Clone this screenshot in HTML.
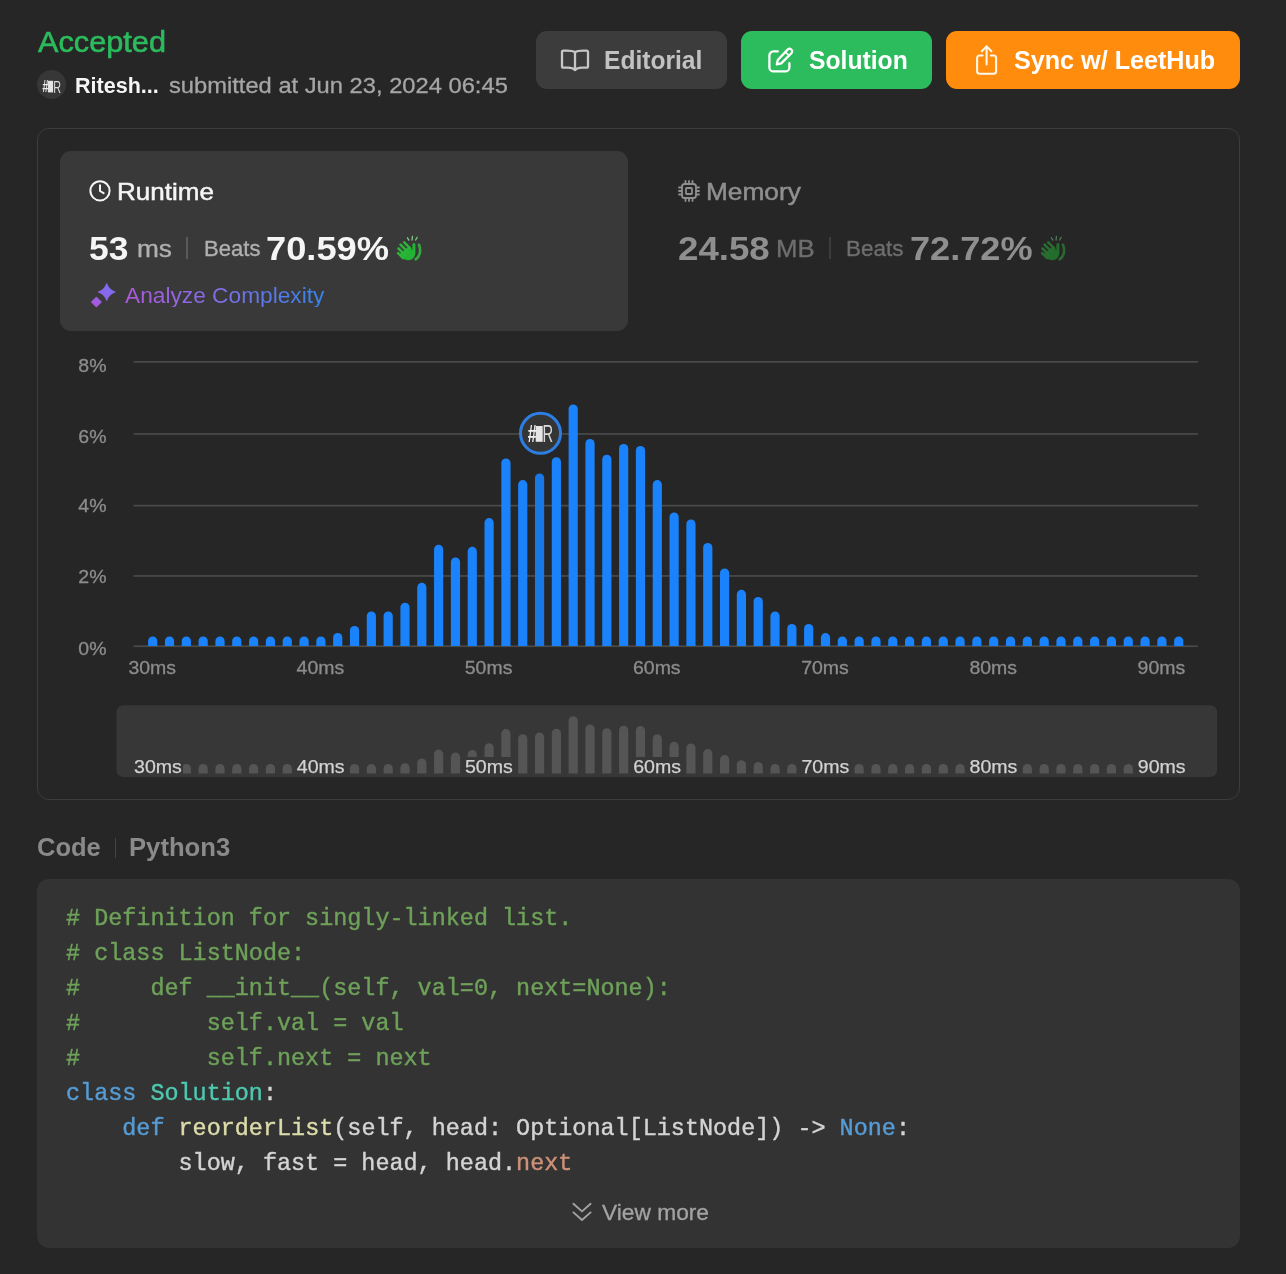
<!DOCTYPE html>
<html lang="en">
<head>
<meta charset="utf-8">
<title>Accepted - Submission Detail</title>
<style>
html,body{margin:0;padding:0;}
body{width:1286px;height:1274px;background:#262626;overflow:hidden;position:relative;font-family:"Liberation Sans",sans-serif;}
.abs{position:absolute;box-sizing:border-box;}
.t{position:absolute;white-space:pre;display:block;transform-origin:0 0;}
.btn{position:absolute;top:31px;height:58px;border-radius:11px;box-sizing:border-box;}
.panel{left:37px;top:128px;width:1203px;height:672px;border:1.5px solid #3d3d3d;border-radius:12px;}
.card{left:60px;top:151px;width:568px;height:180px;border-radius:11px;background:#393939;}
.codebox{left:37px;top:878.5px;width:1203px;height:369px;border-radius:12px;background:#333333;}
.cl{position:absolute;left:66px;height:35px;line-height:35px;white-space:pre;font-family:"Liberation Mono",monospace;font-size:23.45px;color:#d4d4d4;}
.cl span{-webkit-text-stroke:0.4px currentColor;}
.c{color:#6ea159;}.k{color:#569cd6;}.f{color:#dcdcaa;}.p{color:#ce9178;}.d{color:#d4d4d4;}
.ty{color:#4ec9b0;}
.chart{position:absolute;left:0;top:0;pointer-events:none;}
.vdiv{position:absolute;width:1.5px;background:#555;}
svg.ic{position:absolute;overflow:visible;}
</style>
</head>
<body>
<div class="abs panel"></div>
<div class="abs card"></div>
<div class="abs codebox"></div>

<!-- avatar -->
<div class="abs" style="left:37.3px;top:70.3px;width:29.2px;height:29.2px;border-radius:50%;background:#373737;"></div>
<svg class="ic" style="left:37.5px;top:70.5px" width="29" height="29" viewBox="0 0 29 29" font-family='"Liberation Sans", sans-serif'>
  <text x="4.2" y="21.4" font-size="16.5" font-weight="700" font-style="italic" fill="#ececec" textLength="6" lengthAdjust="spacingAndGlyphs">#</text>
  <rect x="9.9" y="9.8" width="5.2" height="11.6" fill="#e4e4e4"/>
  <text x="15.2" y="21.5" font-size="16.8" fill="#dcdcdc" textLength="7.8" lengthAdjust="spacingAndGlyphs">R</text>
</svg>

<!-- buttons -->
<div class="btn" style="left:536px;width:191px;background:#3c3c3c;"></div>
<div class="btn" style="left:741px;width:191px;background:#2cbb5d;"></div>
<div class="btn" style="left:946px;width:294px;background:#ff8c0c;"></div>

<!-- editorial icon (open book) -->
<svg class="ic" style="left:560px;top:47px" width="30" height="26" viewBox="0 0 30 26" fill="none" stroke="#c6c6c6" stroke-width="2.3" stroke-linejoin="round" stroke-linecap="round">
  <path d="M15 5.2 C13.4 4.1 10.6 3.6 6.4 3.6 H3.4 A1.4 1.4 0 0 0 2 5 V19.2 A1.4 1.4 0 0 0 3.4 20.6 H8 C11.4 20.6 13.6 21.4 15 23 C16.4 21.4 18.6 20.6 22 20.6 H26.6 A1.4 1.4 0 0 0 28 19.2 V5 A1.4 1.4 0 0 0 26.6 3.6 H23.6 C19.4 3.6 16.6 4.1 15 5.2 Z"/>
  <path d="M15 5.2 V23"/>
</svg>
<!-- solution icon (pen on square) -->
<svg class="ic" style="left:767px;top:46px" width="28" height="28" viewBox="0 0 28 28" fill="none" stroke="#ffffff" stroke-width="2.3" stroke-linejoin="round" stroke-linecap="round">
  <path d="M10.8 5.4 H6.4 A4 4 0 0 0 2.4 9.4 V21.4 A4 4 0 0 0 6.4 25.4 H18.4 A4 4 0 0 0 22.4 21.4 V17.2"/>
  <path d="M20.6 3.6 A2.5 2.5 0 0 1 24.4 7.2 L14.2 17.4 L9.8 18.4 L10.8 14 Z"/>
  <path d="M18.4 6 L22 9.6" stroke-width="1.6"/>
</svg>
<!-- share icon -->
<svg class="ic" style="left:974px;top:44px" width="26" height="32" viewBox="0 0 26 32" fill="none" stroke="#fff8ea" stroke-width="2.05" stroke-linejoin="round" stroke-linecap="round">
  <path d="M8.6 11.4 H5.6 A2.5 2.5 0 0 0 3.1 13.9 V27.2 A2.5 2.5 0 0 0 5.6 29.7 H19.6 A2.5 2.5 0 0 0 22.1 27.2 V13.9 A2.5 2.5 0 0 0 19.6 11.4 H16.8"/>
  <path d="M12.6 20.4 V2.6"/>
  <path d="M7.8 7.2 L12.6 2.4 L17.4 7.2"/>
</svg>

<!-- clock icon -->
<svg class="ic" style="left:89px;top:180px" width="22" height="22" viewBox="0 0 22 22" fill="none" stroke="#f5f5f5" stroke-width="2" stroke-linecap="round" stroke-linejoin="round">
  <circle cx="11" cy="10.8" r="9.6"/>
  <path d="M11 5.2 V11 L14.6 13.2"/>
</svg>
<!-- runtime divider -->
<div class="vdiv" style="left:186px;top:237px;height:22px;background:#5a5a5a;"></div>
<!-- clap emoji runtime -->
<svg class="ic" style="left:396px;top:234.5px" width="27" height="27" viewBox="0 0 27 27">
  <g id="clapg">
    <path d="M23 9.8 C25.2 15.5 24 21.4 19.7 24.3" fill="none" stroke="#35a83f" stroke-width="2.6" stroke-linecap="round"/>
    <path d="M11.8 12.2 L16.4 15 V9.5 A1.5 1.5 0 0 1 19.4 9.5 V17.4 C19.4 22 16.4 25.2 12.4 25.2 C9.8 25.2 7.8 24.4 6.2 22.8 L3 19.4 Z" fill="#22b332"/>
    <g fill="none" stroke="#2db43b" stroke-width="2.5" stroke-linecap="round">
      <path d="M8.2 7.4 L14.2 13.4"/>
      <path d="M4.5 9.7 L12 17.2"/>
      <path d="M2.5 13.5 L9.6 20.6"/>
      <path d="M2.1 18.2 L7 23.1"/>
    </g>
    <g fill="none" stroke="#7fc987" stroke-width="1.3" stroke-linecap="round">
      <path d="M11.4 2.8 L12.9 5.1"/>
      <path d="M16.4 1.5 L16.1 5"/>
      <path d="M21.2 2.2 L19.6 5"/>
    </g>
  </g>
</svg>
<!-- sparkle icon -->
<svg class="ic" style="left:90.5px;top:283px" width="26" height="26" viewBox="0 0 26 26">
  <defs><linearGradient id="spg" gradientUnits="userSpaceOnUse" x1="1" y1="24" x2="24" y2="2"><stop offset="0" stop-color="#b054dc"/><stop offset="0.5" stop-color="#8d66e8"/><stop offset="1" stop-color="#7472f4"/></linearGradient></defs>
  <path fill="url(#spg)" d="M15.70 0.30 Q18.00 6.75 24.45 9.05 Q18.00 11.35 15.70 17.80 Q13.40 11.35 6.95 9.05 Q13.40 6.75 15.70 0.30 Z" stroke="url(#spg)" stroke-width="0.5" stroke-linejoin="round"/>
  <path fill="url(#spg)" d="M5.40 13.90 L10.50 19.00 L5.40 24.10 L0.30 19.00 Z" stroke="url(#spg)" stroke-width="0.8" stroke-linejoin="round"/>
</svg>

<!-- memory icon (chip) -->
<svg class="ic" style="left:678px;top:179.6px" width="22" height="22" viewBox="0 0 22 22" fill="none" stroke="#8f8f8f" stroke-width="1.8" stroke-linecap="round" stroke-linejoin="round">
  <rect x="4" y="4" width="14" height="14" rx="2.6"/>
  <rect x="8" y="8" width="6" height="6" rx="0.8"/>
  <path d="M7.5 1 V3.6 M11 1 V3.6 M14.5 1 V3.6 M7.5 18.4 V21 M11 18.4 V21 M14.5 18.4 V21 M1 7.5 H3.6 M1 11 H3.6 M1 14.5 H3.6 M18.4 7.5 H21 M18.4 11 H21 M18.4 14.5 H21"/>
</svg>
<div class="vdiv" style="left:829.2px;top:237px;height:22px;background:#3c3c3c;"></div>
<svg class="ic" style="left:1040px;top:234.5px;opacity:0.5" width="27" height="27" viewBox="0 0 27 27">
  <use href="#clapg"/>
</svg>

<!-- code header divider -->
<div class="vdiv" style="left:114.6px;top:837.5px;height:20px;background:#444;"></div>

<!-- view more chevrons -->
<svg class="ic" style="left:572px;top:1202px" width="20" height="20" viewBox="0 0 20 20" fill="none" stroke="#a3a3a3" stroke-width="1.9" stroke-linecap="round" stroke-linejoin="round">
  <path d="M1.4 1.8 L10 9.4 L18.6 1.8"/>
  <path d="M1.4 10.4 L10 18 L18.6 10.4"/>
</svg>

<svg class="chart" width="1286" height="1274" viewBox="0 0 1286 1274" font-family='"Liberation Sans", sans-serif'>
<rect x="133.6" y="361.0" width="1064.3" height="1.7" fill="#4a4a4a"/>
<text x="78.3" y="372.4" font-size="19.2" fill="#8c8c8c" stroke="#8c8c8c" stroke-width="0.3" textLength="28.2" lengthAdjust="spacingAndGlyphs">8%</text>
<rect x="133.6" y="433.1" width="1064.3" height="1.7" fill="#4a4a4a"/>
<text x="78.3" y="442.6" font-size="19.2" fill="#8c8c8c" stroke="#8c8c8c" stroke-width="0.3" textLength="28.2" lengthAdjust="spacingAndGlyphs">6%</text>
<rect x="133.6" y="504.8" width="1064.3" height="1.7" fill="#4a4a4a"/>
<text x="78.3" y="512.2" font-size="19.2" fill="#8c8c8c" stroke="#8c8c8c" stroke-width="0.3" textLength="28.2" lengthAdjust="spacingAndGlyphs">4%</text>
<rect x="133.6" y="575.1" width="1064.3" height="1.7" fill="#4a4a4a"/>
<text x="78.3" y="583.1" font-size="19.2" fill="#8c8c8c" stroke="#8c8c8c" stroke-width="0.3" textLength="28.2" lengthAdjust="spacingAndGlyphs">2%</text>
<rect x="133.6" y="645.4" width="1064.3" height="1.7" fill="#4a4a4a"/>
<text x="78.3" y="654.8" font-size="19.2" fill="#8c8c8c" stroke="#8c8c8c" stroke-width="0.3" textLength="28.2" lengthAdjust="spacingAndGlyphs">0%</text>
<path d="M148.10 646.00 V641.10 A4.60 4.60 0 0 1 157.30 641.10 V646.00 Z" fill="#1a82fa"/>
<path d="M164.92 646.00 V641.10 A4.60 4.60 0 0 1 174.12 641.10 V646.00 Z" fill="#1a82fa"/>
<path d="M181.74 646.00 V641.10 A4.60 4.60 0 0 1 190.94 641.10 V646.00 Z" fill="#1a82fa"/>
<path d="M198.56 646.00 V641.10 A4.60 4.60 0 0 1 207.76 641.10 V646.00 Z" fill="#1a82fa"/>
<path d="M215.38 646.00 V641.10 A4.60 4.60 0 0 1 224.58 641.10 V646.00 Z" fill="#1a82fa"/>
<path d="M232.20 646.00 V641.10 A4.60 4.60 0 0 1 241.40 641.10 V646.00 Z" fill="#1a82fa"/>
<path d="M249.02 646.00 V641.10 A4.60 4.60 0 0 1 258.22 641.10 V646.00 Z" fill="#1a82fa"/>
<path d="M265.84 646.00 V641.10 A4.60 4.60 0 0 1 275.04 641.10 V646.00 Z" fill="#1a82fa"/>
<path d="M282.66 646.00 V641.10 A4.60 4.60 0 0 1 291.86 641.10 V646.00 Z" fill="#1a82fa"/>
<path d="M299.48 646.00 V641.10 A4.60 4.60 0 0 1 308.68 641.10 V646.00 Z" fill="#1a82fa"/>
<path d="M316.30 646.00 V641.10 A4.60 4.60 0 0 1 325.50 641.10 V646.00 Z" fill="#1a82fa"/>
<path d="M333.12 646.00 V637.60 A4.60 4.60 0 0 1 342.32 637.60 V646.00 Z" fill="#1a82fa"/>
<path d="M349.94 646.00 V630.60 A4.60 4.60 0 0 1 359.14 630.60 V646.00 Z" fill="#1a82fa"/>
<path d="M366.76 646.00 V616.10 A4.60 4.60 0 0 1 375.96 616.10 V646.00 Z" fill="#1a82fa"/>
<path d="M383.58 646.00 V616.10 A4.60 4.60 0 0 1 392.78 616.10 V646.00 Z" fill="#1a82fa"/>
<path d="M400.40 646.00 V607.30 A4.60 4.60 0 0 1 409.60 607.30 V646.00 Z" fill="#1a82fa"/>
<path d="M417.22 646.00 V587.40 A4.60 4.60 0 0 1 426.42 587.40 V646.00 Z" fill="#1a82fa"/>
<path d="M434.04 646.00 V549.40 A4.60 4.60 0 0 1 443.24 549.40 V646.00 Z" fill="#1a82fa"/>
<path d="M450.86 646.00 V562.10 A4.60 4.60 0 0 1 460.06 562.10 V646.00 Z" fill="#1a82fa"/>
<path d="M467.68 646.00 V551.40 A4.60 4.60 0 0 1 476.88 551.40 V646.00 Z" fill="#1a82fa"/>
<path d="M484.50 646.00 V522.70 A4.60 4.60 0 0 1 493.70 522.70 V646.00 Z" fill="#1a82fa"/>
<path d="M501.32 646.00 V463.00 A4.60 4.60 0 0 1 510.52 463.00 V646.00 Z" fill="#1a82fa"/>
<path d="M518.14 646.00 V484.70 A4.60 4.60 0 0 1 527.34 484.70 V646.00 Z" fill="#1a82fa"/>
<path d="M534.96 646.00 V478.00 A4.60 4.60 0 0 1 544.16 478.00 V646.00 Z" fill="#1878e6"/>
<path d="M551.78 646.00 V461.80 A4.60 4.60 0 0 1 560.98 461.80 V646.00 Z" fill="#1a82fa"/>
<path d="M568.60 646.00 V409.00 A4.60 4.60 0 0 1 577.80 409.00 V646.00 Z" fill="#1a82fa"/>
<path d="M585.42 646.00 V443.60 A4.60 4.60 0 0 1 594.62 443.60 V646.00 Z" fill="#1a82fa"/>
<path d="M602.24 646.00 V459.30 A4.60 4.60 0 0 1 611.44 459.30 V646.00 Z" fill="#1a82fa"/>
<path d="M619.06 646.00 V448.60 A4.60 4.60 0 0 1 628.26 448.60 V646.00 Z" fill="#1a82fa"/>
<path d="M635.88 646.00 V450.60 A4.60 4.60 0 0 1 645.08 450.60 V646.00 Z" fill="#1a82fa"/>
<path d="M652.70 646.00 V484.70 A4.60 4.60 0 0 1 661.90 484.70 V646.00 Z" fill="#1a82fa"/>
<path d="M669.52 646.00 V517.00 A4.60 4.60 0 0 1 678.72 517.00 V646.00 Z" fill="#1a82fa"/>
<path d="M686.34 646.00 V524.00 A4.60 4.60 0 0 1 695.54 524.00 V646.00 Z" fill="#1a82fa"/>
<path d="M703.16 646.00 V547.60 A4.60 4.60 0 0 1 712.36 547.60 V646.00 Z" fill="#1a82fa"/>
<path d="M719.98 646.00 V573.00 A4.60 4.60 0 0 1 729.18 573.00 V646.00 Z" fill="#1a82fa"/>
<path d="M736.80 646.00 V594.40 A4.60 4.60 0 0 1 746.00 594.40 V646.00 Z" fill="#1a82fa"/>
<path d="M753.62 646.00 V601.60 A4.60 4.60 0 0 1 762.82 601.60 V646.00 Z" fill="#1a82fa"/>
<path d="M770.44 646.00 V616.10 A4.60 4.60 0 0 1 779.64 616.10 V646.00 Z" fill="#1a82fa"/>
<path d="M787.26 646.00 V628.50 A4.60 4.60 0 0 1 796.46 628.50 V646.00 Z" fill="#1a82fa"/>
<path d="M804.08 646.00 V628.50 A4.60 4.60 0 0 1 813.28 628.50 V646.00 Z" fill="#1a82fa"/>
<path d="M820.90 646.00 V637.70 A4.60 4.60 0 0 1 830.10 637.70 V646.00 Z" fill="#1a82fa"/>
<path d="M837.72 646.00 V641.10 A4.60 4.60 0 0 1 846.92 641.10 V646.00 Z" fill="#1a82fa"/>
<path d="M854.54 646.00 V641.10 A4.60 4.60 0 0 1 863.74 641.10 V646.00 Z" fill="#1a82fa"/>
<path d="M871.36 646.00 V641.10 A4.60 4.60 0 0 1 880.56 641.10 V646.00 Z" fill="#1a82fa"/>
<path d="M888.18 646.00 V641.10 A4.60 4.60 0 0 1 897.38 641.10 V646.00 Z" fill="#1a82fa"/>
<path d="M905.00 646.00 V641.10 A4.60 4.60 0 0 1 914.20 641.10 V646.00 Z" fill="#1a82fa"/>
<path d="M921.82 646.00 V641.10 A4.60 4.60 0 0 1 931.02 641.10 V646.00 Z" fill="#1a82fa"/>
<path d="M938.64 646.00 V641.10 A4.60 4.60 0 0 1 947.84 641.10 V646.00 Z" fill="#1a82fa"/>
<path d="M955.46 646.00 V641.10 A4.60 4.60 0 0 1 964.66 641.10 V646.00 Z" fill="#1a82fa"/>
<path d="M972.28 646.00 V641.10 A4.60 4.60 0 0 1 981.48 641.10 V646.00 Z" fill="#1a82fa"/>
<path d="M989.10 646.00 V641.10 A4.60 4.60 0 0 1 998.30 641.10 V646.00 Z" fill="#1a82fa"/>
<path d="M1005.92 646.00 V641.10 A4.60 4.60 0 0 1 1015.12 641.10 V646.00 Z" fill="#1a82fa"/>
<path d="M1022.74 646.00 V641.10 A4.60 4.60 0 0 1 1031.94 641.10 V646.00 Z" fill="#1a82fa"/>
<path d="M1039.56 646.00 V641.10 A4.60 4.60 0 0 1 1048.76 641.10 V646.00 Z" fill="#1a82fa"/>
<path d="M1056.38 646.00 V641.10 A4.60 4.60 0 0 1 1065.58 641.10 V646.00 Z" fill="#1a82fa"/>
<path d="M1073.20 646.00 V641.10 A4.60 4.60 0 0 1 1082.40 641.10 V646.00 Z" fill="#1a82fa"/>
<path d="M1090.02 646.00 V641.10 A4.60 4.60 0 0 1 1099.22 641.10 V646.00 Z" fill="#1a82fa"/>
<path d="M1106.84 646.00 V641.10 A4.60 4.60 0 0 1 1116.04 641.10 V646.00 Z" fill="#1a82fa"/>
<path d="M1123.66 646.00 V641.10 A4.60 4.60 0 0 1 1132.86 641.10 V646.00 Z" fill="#1a82fa"/>
<path d="M1140.48 646.00 V641.10 A4.60 4.60 0 0 1 1149.68 641.10 V646.00 Z" fill="#1a82fa"/>
<path d="M1157.30 646.00 V641.10 A4.60 4.60 0 0 1 1166.50 641.10 V646.00 Z" fill="#1a82fa"/>
<path d="M1174.12 646.00 V641.10 A4.60 4.60 0 0 1 1183.32 641.10 V646.00 Z" fill="#1a82fa"/>
<text x="152.2" y="674.2" font-size="18.2" fill="#8c8c8c" stroke="#8c8c8c" stroke-width="0.3" text-anchor="middle" textLength="47.6" lengthAdjust="spacingAndGlyphs">30ms</text>
<text x="320.4" y="674.2" font-size="18.2" fill="#8c8c8c" stroke="#8c8c8c" stroke-width="0.3" text-anchor="middle" textLength="47.6" lengthAdjust="spacingAndGlyphs">40ms</text>
<text x="488.6" y="674.2" font-size="18.2" fill="#8c8c8c" stroke="#8c8c8c" stroke-width="0.3" text-anchor="middle" textLength="47.6" lengthAdjust="spacingAndGlyphs">50ms</text>
<text x="656.8" y="674.2" font-size="18.2" fill="#8c8c8c" stroke="#8c8c8c" stroke-width="0.3" text-anchor="middle" textLength="47.6" lengthAdjust="spacingAndGlyphs">60ms</text>
<text x="825.0" y="674.2" font-size="18.2" fill="#8c8c8c" stroke="#8c8c8c" stroke-width="0.3" text-anchor="middle" textLength="47.6" lengthAdjust="spacingAndGlyphs">70ms</text>
<text x="993.2" y="674.2" font-size="18.2" fill="#8c8c8c" stroke="#8c8c8c" stroke-width="0.3" text-anchor="middle" textLength="47.6" lengthAdjust="spacingAndGlyphs">80ms</text>
<text x="1161.4" y="674.2" font-size="18.2" fill="#8c8c8c" stroke="#8c8c8c" stroke-width="0.3" text-anchor="middle" textLength="47.6" lengthAdjust="spacingAndGlyphs">90ms</text>
<rect x="116.5" y="705.2" width="1100.6" height="71.8" rx="7" fill="#373737"/>
<path d="M148.10 773.50 V768.60 A4.60 4.60 0 0 1 157.30 768.60 V773.50 Z" fill="#555555"/>
<path d="M164.92 773.50 V768.60 A4.60 4.60 0 0 1 174.12 768.60 V773.50 Z" fill="#555555"/>
<path d="M181.74 773.50 V768.60 A4.60 4.60 0 0 1 190.94 768.60 V773.50 Z" fill="#555555"/>
<path d="M198.56 773.50 V768.60 A4.60 4.60 0 0 1 207.76 768.60 V773.50 Z" fill="#555555"/>
<path d="M215.38 773.50 V768.60 A4.60 4.60 0 0 1 224.58 768.60 V773.50 Z" fill="#555555"/>
<path d="M232.20 773.50 V768.60 A4.60 4.60 0 0 1 241.40 768.60 V773.50 Z" fill="#555555"/>
<path d="M249.02 773.50 V768.60 A4.60 4.60 0 0 1 258.22 768.60 V773.50 Z" fill="#555555"/>
<path d="M265.84 773.50 V768.60 A4.60 4.60 0 0 1 275.04 768.60 V773.50 Z" fill="#555555"/>
<path d="M282.66 773.50 V768.60 A4.60 4.60 0 0 1 291.86 768.60 V773.50 Z" fill="#555555"/>
<path d="M299.48 773.50 V768.60 A4.60 4.60 0 0 1 308.68 768.60 V773.50 Z" fill="#555555"/>
<path d="M316.30 773.50 V768.60 A4.60 4.60 0 0 1 325.50 768.60 V773.50 Z" fill="#555555"/>
<path d="M333.12 773.50 V768.60 A4.60 4.60 0 0 1 342.32 768.60 V773.50 Z" fill="#555555"/>
<path d="M349.94 773.50 V768.60 A4.60 4.60 0 0 1 359.14 768.60 V773.50 Z" fill="#555555"/>
<path d="M366.76 773.50 V768.60 A4.60 4.60 0 0 1 375.96 768.60 V773.50 Z" fill="#555555"/>
<path d="M383.58 773.50 V768.60 A4.60 4.60 0 0 1 392.78 768.60 V773.50 Z" fill="#555555"/>
<path d="M400.40 773.50 V767.84 A4.60 4.60 0 0 1 409.60 767.84 V773.50 Z" fill="#555555"/>
<path d="M417.22 773.50 V763.12 A4.60 4.60 0 0 1 426.42 763.12 V773.50 Z" fill="#555555"/>
<path d="M434.04 773.50 V754.12 A4.60 4.60 0 0 1 443.24 754.12 V773.50 Z" fill="#555555"/>
<path d="M450.86 773.50 V757.13 A4.60 4.60 0 0 1 460.06 757.13 V773.50 Z" fill="#555555"/>
<path d="M467.68 773.50 V754.59 A4.60 4.60 0 0 1 476.88 754.59 V773.50 Z" fill="#555555"/>
<path d="M484.50 773.50 V747.79 A4.60 4.60 0 0 1 493.70 747.79 V773.50 Z" fill="#555555"/>
<path d="M501.32 773.50 V733.64 A4.60 4.60 0 0 1 510.52 733.64 V773.50 Z" fill="#555555"/>
<path d="M518.14 773.50 V738.78 A4.60 4.60 0 0 1 527.34 738.78 V773.50 Z" fill="#555555"/>
<path d="M534.96 773.50 V737.19 A4.60 4.60 0 0 1 544.16 737.19 V773.50 Z" fill="#555555"/>
<path d="M551.78 773.50 V733.35 A4.60 4.60 0 0 1 560.98 733.35 V773.50 Z" fill="#555555"/>
<path d="M568.60 773.50 V720.84 A4.60 4.60 0 0 1 577.80 720.84 V773.50 Z" fill="#555555"/>
<path d="M585.42 773.50 V729.04 A4.60 4.60 0 0 1 594.62 729.04 V773.50 Z" fill="#555555"/>
<path d="M602.24 773.50 V732.76 A4.60 4.60 0 0 1 611.44 732.76 V773.50 Z" fill="#555555"/>
<path d="M619.06 773.50 V730.23 A4.60 4.60 0 0 1 628.26 730.23 V773.50 Z" fill="#555555"/>
<path d="M635.88 773.50 V730.70 A4.60 4.60 0 0 1 645.08 730.70 V773.50 Z" fill="#555555"/>
<path d="M652.70 773.50 V738.78 A4.60 4.60 0 0 1 661.90 738.78 V773.50 Z" fill="#555555"/>
<path d="M669.52 773.50 V746.44 A4.60 4.60 0 0 1 678.72 746.44 V773.50 Z" fill="#555555"/>
<path d="M686.34 773.50 V748.10 A4.60 4.60 0 0 1 695.54 748.10 V773.50 Z" fill="#555555"/>
<path d="M703.16 773.50 V753.69 A4.60 4.60 0 0 1 712.36 753.69 V773.50 Z" fill="#555555"/>
<path d="M719.98 773.50 V759.71 A4.60 4.60 0 0 1 729.18 759.71 V773.50 Z" fill="#555555"/>
<path d="M736.80 773.50 V764.78 A4.60 4.60 0 0 1 746.00 764.78 V773.50 Z" fill="#555555"/>
<path d="M753.62 773.50 V766.49 A4.60 4.60 0 0 1 762.82 766.49 V773.50 Z" fill="#555555"/>
<path d="M770.44 773.50 V768.60 A4.60 4.60 0 0 1 779.64 768.60 V773.50 Z" fill="#555555"/>
<path d="M787.26 773.50 V768.60 A4.60 4.60 0 0 1 796.46 768.60 V773.50 Z" fill="#555555"/>
<path d="M804.08 773.50 V768.60 A4.60 4.60 0 0 1 813.28 768.60 V773.50 Z" fill="#555555"/>
<path d="M820.90 773.50 V768.60 A4.60 4.60 0 0 1 830.10 768.60 V773.50 Z" fill="#555555"/>
<path d="M837.72 773.50 V768.60 A4.60 4.60 0 0 1 846.92 768.60 V773.50 Z" fill="#555555"/>
<path d="M854.54 773.50 V768.60 A4.60 4.60 0 0 1 863.74 768.60 V773.50 Z" fill="#555555"/>
<path d="M871.36 773.50 V768.60 A4.60 4.60 0 0 1 880.56 768.60 V773.50 Z" fill="#555555"/>
<path d="M888.18 773.50 V768.60 A4.60 4.60 0 0 1 897.38 768.60 V773.50 Z" fill="#555555"/>
<path d="M905.00 773.50 V768.60 A4.60 4.60 0 0 1 914.20 768.60 V773.50 Z" fill="#555555"/>
<path d="M921.82 773.50 V768.60 A4.60 4.60 0 0 1 931.02 768.60 V773.50 Z" fill="#555555"/>
<path d="M938.64 773.50 V768.60 A4.60 4.60 0 0 1 947.84 768.60 V773.50 Z" fill="#555555"/>
<path d="M955.46 773.50 V768.60 A4.60 4.60 0 0 1 964.66 768.60 V773.50 Z" fill="#555555"/>
<path d="M972.28 773.50 V768.60 A4.60 4.60 0 0 1 981.48 768.60 V773.50 Z" fill="#555555"/>
<path d="M989.10 773.50 V768.60 A4.60 4.60 0 0 1 998.30 768.60 V773.50 Z" fill="#555555"/>
<path d="M1005.92 773.50 V768.60 A4.60 4.60 0 0 1 1015.12 768.60 V773.50 Z" fill="#555555"/>
<path d="M1022.74 773.50 V768.60 A4.60 4.60 0 0 1 1031.94 768.60 V773.50 Z" fill="#555555"/>
<path d="M1039.56 773.50 V768.60 A4.60 4.60 0 0 1 1048.76 768.60 V773.50 Z" fill="#555555"/>
<path d="M1056.38 773.50 V768.60 A4.60 4.60 0 0 1 1065.58 768.60 V773.50 Z" fill="#555555"/>
<path d="M1073.20 773.50 V768.60 A4.60 4.60 0 0 1 1082.40 768.60 V773.50 Z" fill="#555555"/>
<path d="M1090.02 773.50 V768.60 A4.60 4.60 0 0 1 1099.22 768.60 V773.50 Z" fill="#555555"/>
<path d="M1106.84 773.50 V768.60 A4.60 4.60 0 0 1 1116.04 768.60 V773.50 Z" fill="#555555"/>
<path d="M1123.66 773.50 V768.60 A4.60 4.60 0 0 1 1132.86 768.60 V773.50 Z" fill="#555555"/>
<path d="M1140.48 773.50 V768.60 A4.60 4.60 0 0 1 1149.68 768.60 V773.50 Z" fill="#555555"/>
<path d="M1157.30 773.50 V768.60 A4.60 4.60 0 0 1 1166.50 768.60 V773.50 Z" fill="#555555"/>
<path d="M1174.12 773.50 V768.60 A4.60 4.60 0 0 1 1183.32 768.60 V773.50 Z" fill="#555555"/>
<rect x="133.0" y="757" width="50" height="20" fill="#373737"/>
<text x="158.0" y="772.6" font-size="18.6" fill="#d2d2d2" stroke="#d2d2d2" stroke-width="0.25" text-anchor="middle" textLength="47.8" lengthAdjust="spacingAndGlyphs">30ms</text>
<rect x="295.7" y="757" width="50" height="20" fill="#373737"/>
<text x="320.7" y="772.6" font-size="18.6" fill="#d2d2d2" stroke="#d2d2d2" stroke-width="0.25" text-anchor="middle" textLength="47.8" lengthAdjust="spacingAndGlyphs">40ms</text>
<rect x="463.9" y="757" width="50" height="20" fill="#373737"/>
<text x="488.9" y="772.6" font-size="18.6" fill="#d2d2d2" stroke="#d2d2d2" stroke-width="0.25" text-anchor="middle" textLength="47.8" lengthAdjust="spacingAndGlyphs">50ms</text>
<rect x="632.1" y="757" width="50" height="20" fill="#373737"/>
<text x="657.1" y="772.6" font-size="18.6" fill="#d2d2d2" stroke="#d2d2d2" stroke-width="0.25" text-anchor="middle" textLength="47.8" lengthAdjust="spacingAndGlyphs">60ms</text>
<rect x="800.3" y="757" width="50" height="20" fill="#373737"/>
<text x="825.3" y="772.6" font-size="18.6" fill="#d2d2d2" stroke="#d2d2d2" stroke-width="0.25" text-anchor="middle" textLength="47.8" lengthAdjust="spacingAndGlyphs">70ms</text>
<rect x="968.5" y="757" width="50" height="20" fill="#373737"/>
<text x="993.5" y="772.6" font-size="18.6" fill="#d2d2d2" stroke="#d2d2d2" stroke-width="0.25" text-anchor="middle" textLength="47.8" lengthAdjust="spacingAndGlyphs">80ms</text>
<rect x="1136.7" y="757" width="50" height="20" fill="#373737"/>
<text x="1161.7" y="772.6" font-size="18.6" fill="#d2d2d2" stroke="#d2d2d2" stroke-width="0.25" text-anchor="middle" textLength="47.8" lengthAdjust="spacingAndGlyphs">90ms</text>
<circle cx="540.5" cy="433.3" r="20" fill="#353535" stroke="#2d7ee2" stroke-width="3"/>
<text x="527.6" y="441.8" font-size="23.5" font-weight="700" font-style="italic" fill="#f0f0f0" textLength="8.8" lengthAdjust="spacingAndGlyphs">#</text>
<rect x="535.7" y="426" width="7" height="15.8" fill="#e6e6e6"/>
<text x="542.6" y="441.9" font-size="23.5" fill="#dadada" textLength="10.6" lengthAdjust="spacingAndGlyphs">R</text>
</svg>

<span class="t" style="left:38.14px;top:28.00px;font-size:29.20px;line-height:29.20px;font-weight:400;color:#2cbb5d;transform:scaleX(1.0519);-webkit-text-stroke:0.60px #2cbb5d;">Accepted</span>
<span class="t" style="left:74.50px;top:75.00px;font-size:22.50px;line-height:22.50px;font-weight:700;color:#f5f5f5;transform:scaleX(0.9565);">Ritesh...</span>
<span class="t" style="left:168.87px;top:74.00px;font-size:22.80px;line-height:22.80px;font-weight:400;color:#a6a6a6;transform:scaleX(1.0402);-webkit-text-stroke:0.30px #a6a6a6;">submitted at Jun 23, 2024 06:45</span>
<span class="t" style="left:604.08px;top:47.00px;font-size:26.00px;line-height:26.00px;font-weight:700;color:#c2c2c2;transform:scaleX(0.9457);">Editorial</span>
<span class="t" style="left:808.97px;top:47.00px;font-size:26.00px;line-height:26.00px;font-weight:700;color:#ffffff;transform:scaleX(0.9497);">Solution</span>
<span class="t" style="left:1014.27px;top:47.00px;font-size:26.00px;line-height:26.00px;font-weight:700;color:#ffffff;transform:scaleX(0.9673);">Sync w/ LeetHub</span>
<span class="t" style="left:116.70px;top:180.00px;font-size:24.30px;line-height:24.30px;font-weight:400;color:#f5f5f5;transform:scaleX(1.0707);-webkit-text-stroke:0.50px #f5f5f5;">Runtime</span>
<span class="t" style="left:89.03px;top:232.00px;font-size:33.20px;line-height:33.20px;font-weight:700;color:#f5f5f5;transform:scaleX(1.0680);">53</span>
<span class="t" style="left:136.70px;top:237.00px;font-size:24.00px;line-height:24.00px;font-weight:400;color:#b0b0b0;transform:scaleX(1.0936);-webkit-text-stroke:0.35px #b0b0b0;">ms</span>
<span class="t" style="left:203.52px;top:238.00px;font-size:21.70px;line-height:21.70px;font-weight:400;color:#b0b0b0;transform:scaleX(1.0176);-webkit-text-stroke:0.35px #b0b0b0;">Beats</span>
<span class="t" style="left:266.04px;top:232.00px;font-size:33.20px;line-height:33.20px;font-weight:700;color:#f5f5f5;transform:scaleX(1.0928);">70.59%</span>
<span class="t" style="left:124.89px;top:285.00px;font-size:22.20px;line-height:22.20px;font-weight:400;color:#a45ad8;transform:scaleX(1.0236);background:linear-gradient(90deg,#af58dc 0%,#7b6fe6 50%,#3385ee 100%);-webkit-background-clip:text;background-clip:text;color:transparent;">Analyze Complexity</span>
<span class="t" style="left:706.43px;top:180.00px;font-size:24.30px;line-height:24.30px;font-weight:400;color:#8f8f8f;transform:scaleX(1.0798);-webkit-text-stroke:0.50px #8f8f8f;">Memory</span>
<span class="t" style="left:677.95px;top:232.00px;font-size:33.20px;line-height:33.20px;font-weight:700;color:#8f8f8f;transform:scaleX(1.1050);">24.58</span>
<span class="t" style="left:775.94px;top:237.00px;font-size:24.00px;line-height:24.00px;font-weight:400;color:#6e6e6e;transform:scaleX(1.0743);-webkit-text-stroke:0.35px #6e6e6e;">MB</span>
<span class="t" style="left:845.79px;top:238.00px;font-size:21.70px;line-height:21.70px;font-weight:400;color:#6e6e6e;transform:scaleX(1.0361);-webkit-text-stroke:0.35px #6e6e6e;">Beats</span>
<span class="t" style="left:910.37px;top:232.00px;font-size:33.20px;line-height:33.20px;font-weight:700;color:#8f8f8f;transform:scaleX(1.0887);">72.72%</span>
<span class="t" style="left:37.05px;top:835.00px;font-size:25.00px;line-height:25.00px;font-weight:700;color:#8a8a8a;transform:scaleX(1.0206);">Code</span>
<span class="t" style="left:129.21px;top:835.00px;font-size:25.00px;line-height:25.00px;font-weight:700;color:#8a8a8a;transform:scaleX(1.0266);">Python3</span>
<span class="t" style="left:601.87px;top:1203.00px;font-size:21.50px;line-height:21.50px;font-weight:400;color:#a3a3a3;transform:scaleX(1.0578);-webkit-text-stroke:0.30px #a3a3a3;">View more</span>

<div class="cl" style="top:901.00px"><span class="c"># Definition for singly-linked list.</span></div>
<div class="cl" style="top:936.00px"><span class="c"># class ListNode:</span></div>
<div class="cl" style="top:971.00px"><span class="c">#     def __init__(self, val=0, next=None):</span></div>
<div class="cl" style="top:1006.00px"><span class="c">#         self.val = val</span></div>
<div class="cl" style="top:1041.00px"><span class="c">#         self.next = next</span></div>
<div class="cl" style="top:1076.00px"><span class="k">class</span><span class="d"> </span><span class="ty">Solution</span><span class="d">:</span></div>
<div class="cl" style="top:1111.00px"><span class="d">    </span><span class="k">def</span><span class="d"> </span><span class="f">reorderList</span><span class="d">(self, head: Optional[ListNode]) -&gt; </span><span class="k">None</span><span class="d">:</span></div>
<div class="cl" style="top:1146.00px"><span class="d">        slow, fast = head, head.</span><span class="p">next</span></div>
</body>
</html>
